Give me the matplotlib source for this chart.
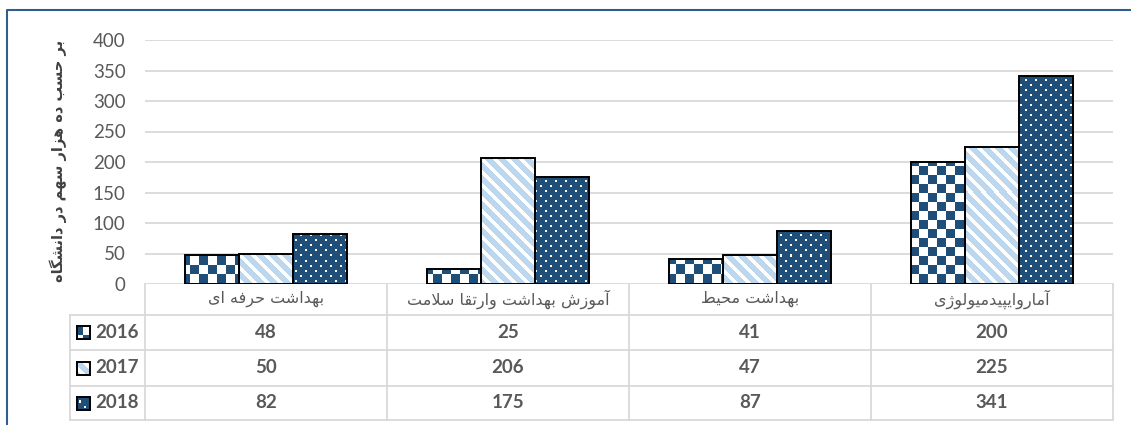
import numpy as np
import matplotlib
matplotlib.use('Agg')
from matplotlib import pyplot as plt
from matplotlib import transforms
from matplotlib.lines import Line2D

# Dados do gráfico
categories = ['بهداشت حرفه ای', 'آموزش بهداشت وارتقا سلامت', 'بهداشت محیط', 'آماروایپیدمیولوژی']
years = ['2016', '2017', '2018']
v2016 = [48, 25, 41, 200]
v2017 = [50, 206, 47, 225]
v2018 = [82, 175, 87, 341]
y_ticks = [0, 50, 100, 150, 200, 250, 300, 350, 400]
y_label = 'بر حسب ده هزار سهم در دانشگاه'

series = [v2016, v2017, v2018]

NAVY = '#1F4E79'
LIGHT = '#BDD7EE'
GRAY = '#595959'
GRID = '#D9D9D9'

# formas de apresentação (isolada, final, inicial, medial)
FORMS = {
    'ب': ('\uFE8F', '\uFE90', '\uFE91', '\uFE92'),
    'پ': ('\uFB56', '\uFB57', '\uFB58', '\uFB59'),
    'ت': ('\uFE95', '\uFE96', '\uFE97', '\uFE98'),
    'ح': ('\uFEA1', '\uFEA2', '\uFEA3', '\uFEA4'),
    'س': ('\uFEB1', '\uFEB2', '\uFEB3', '\uFEB4'),
    'ش': ('\uFEB5', '\uFEB6', '\uFEB7', '\uFEB8'),
    'ط': ('\uFEC1', '\uFEC2', '\uFEC3', '\uFEC4'),
    'ف': ('\uFED1', '\uFED2', '\uFED3', '\uFED4'),
    'ق': ('\uFED5', '\uFED6', '\uFED7', '\uFED8'),
    'گ': ('\uFB92', '\uFB93', '\uFB94', '\uFB95'),
    'ل': ('\uFEDD', '\uFEDE', '\uFEDF', '\uFEE0'),
    'م': ('\uFEE1', '\uFEE2', '\uFEE3', '\uFEE4'),
    'ن': ('\uFEE5', '\uFEE6', '\uFEE7', '\uFEE8'),
    'ه': ('\uFEE9', '\uFEEA', '\uFEEB', '\uFEEC'),
    'ی': ('\uFEEF', '\uFEF0', '\uFEF3', '\uFEF4'),
    'ا': ('\uFE8D', '\uFE8E', None, None),
    'آ': ('\uFE81', '\uFE82', None, None),
    'د': ('\uFEA9', '\uFEAA', None, None),
    'ر': ('\uFEAD', '\uFEAE', None, None),
    'ز': ('\uFEAF', '\uFEB0', None, None),
    'ژ': ('\uFB8A', '\uFB8B', None, None),
    'و': ('\uFEED', '\uFEEE', None, None),
}
LAM_ALEF = {'ا': ('\uFEFB', '\uFEFC'), 'آ': ('\uFEF5', '\uFEF6')}


def liga_esquerda(c):
    f = FORMS.get(c)
    return f is not None and f[2] is not None


def farsi(texto):
    """Une as letras e devolve o texto em ordem visual."""
    out = []
    i = 0
    n = len(texto)
    while i < n:
        c = texto[i]
        if c not in FORMS:
            out.append(c)
            i += 1
            continue
        prev = i > 0 and liga_esquerda(texto[i - 1])
        nxt = texto[i + 1] if i + 1 < n else ''
        if c == 'ل' and nxt in LAM_ALEF:
            out.append(LAM_ALEF[nxt][1] if prev else LAM_ALEF[nxt][0])
            i += 2
            continue
        seguinte = liga_esquerda(c) and nxt in FORMS
        iso, fin, ini, med = FORMS[c]
        if prev and seguinte:
            out.append(med)
        elif prev:
            out.append(fin)
        elif seguinte:
            out.append(ini)
        else:
            out.append(iso)
        i += 1
    return ''.join(reversed(out))


W, H = 1131, 425
AX_L, AX_R, AX_T, AX_B = 145, 1113, 40, 284
aw, ah = AX_R - AX_L, AX_B - AX_T

fig = plt.figure(figsize=(W / 100, H / 100), dpi=100)
ax = fig.add_axes([AX_L / W, 1 - AX_B / H, aw / W, ah / H])

# Texturas (padrões do Excel)
yy, xx = np.mgrid[0:ah, 0:aw]


def textura(mask, cor_on, cor_off):
    on = np.array(matplotlib.colors.to_rgba(cor_on))
    off = np.array(matplotlib.colors.to_rgba(cor_off))
    return np.where(mask[..., None], on, off)


tex = [
    textura(((xx // 9 + yy // 9) % 2 == 0), NAVY, 'white'),
    textura(((xx - yy) % 13 < 8), LIGHT, 'white'),
    textura(((yy % 5 < 2) & ((xx + (yy // 5 % 2) * 5) % 10 < 2)), 'white', NAVY),
]

x = np.arange(len(categories))
width = 0.223
xlim = (-0.5, len(categories) - 0.5)
ylim = (0, 400)

for k, vals in enumerate(series):
    bars = ax.bar(x + (k - 1) * width, vals, width, facecolor='none',
                  edgecolor='black', linewidth=1.4, zorder=3)
    for b in bars:
        im = ax.imshow(tex[k], extent=(*xlim, *ylim), aspect='auto',
                       interpolation='nearest', origin='upper', zorder=2.5)
        im.set_clip_path(b)

ax.set_xlim(*xlim)
ax.set_ylim(*ylim)
ax.set_yticks(y_ticks)
ax.set_xticks([])
ax.grid(axis='y', color=GRID, linewidth=1.3)
ax.set_axisbelow(True)
for s in ax.spines.values():
    s.set_visible(False)
ax.tick_params(axis='y', length=0, pad=14, labelsize=13.5, labelcolor=GRAY)
for t in ax.get_yticklabels():
    t.set_fontfamily('Lato')

# Rótulo do eixo y
fig.text(58 / W, 1 - 161 / H, farsi(y_label), rotation=90, ha='center', va='center',
         fontsize=10.5, fontweight='bold', color='#404040', family='DejaVu Sans')

# Tabela de dados
pxT = transforms.Affine2D().scale(1 / W, -1 / H).translate(0, 1) + fig.transFigure
bl = transforms.blended_transform_factory(ax.transData, pxT)

header_y = 299
row_lines = [315, 350, 386, 420]
row_centers = [332.5, 368, 403]

for xv in np.arange(len(categories) + 1) - 0.5:
    fig.add_artist(Line2D([xv, xv], [AX_B, row_lines[-1]], transform=bl, color=GRID, lw=1.3))
for yv in row_lines:
    fig.add_artist(Line2D([70, AX_R], [yv, yv], transform=pxT, color=GRID, lw=1.3))
fig.add_artist(Line2D([70, 70], [row_lines[0], row_lines[-1]], transform=pxT, color=GRID, lw=1.3))

for i, cat in enumerate(categories):
    fig.text(x[i], header_y, farsi(cat), transform=bl, ha='center', va='center',
             fontsize=11.5, color=GRAY, family='DejaVu Sans')
    for k, vals in enumerate(series):
        fig.text(x[i], row_centers[k], str(vals[i]), transform=bl,
                 ha='center', va='center', fontsize=13.5, fontweight='bold',
                 color=GRAY, family='Lato')

for k, yr in enumerate(years):
    yc = row_centers[k]
    kax = fig.add_axes([77 / W, 1 - (yc + 6.5) / H, 13 / W, 13 / H])
    kax.imshow(tex[k][:13, 3:16], interpolation='nearest', aspect='auto')
    kax.set_xticks([])
    kax.set_yticks([])
    for s in kax.spines.values():
        s.set_color('black')
        s.set_linewidth(1.4)
    fig.text(95, yc, yr, transform=pxT, ha='left', va='center', fontsize=13.5,
             fontweight='bold', color=GRAY, family='Lato')

# Moldura (topo e esquerda)
fig.add_artist(Line2D([7, 7, W], [H, 10, 10], transform=pxT, color='#2F5D8E', lw=1.5))

fig.savefig('out.png', dpi=100)
